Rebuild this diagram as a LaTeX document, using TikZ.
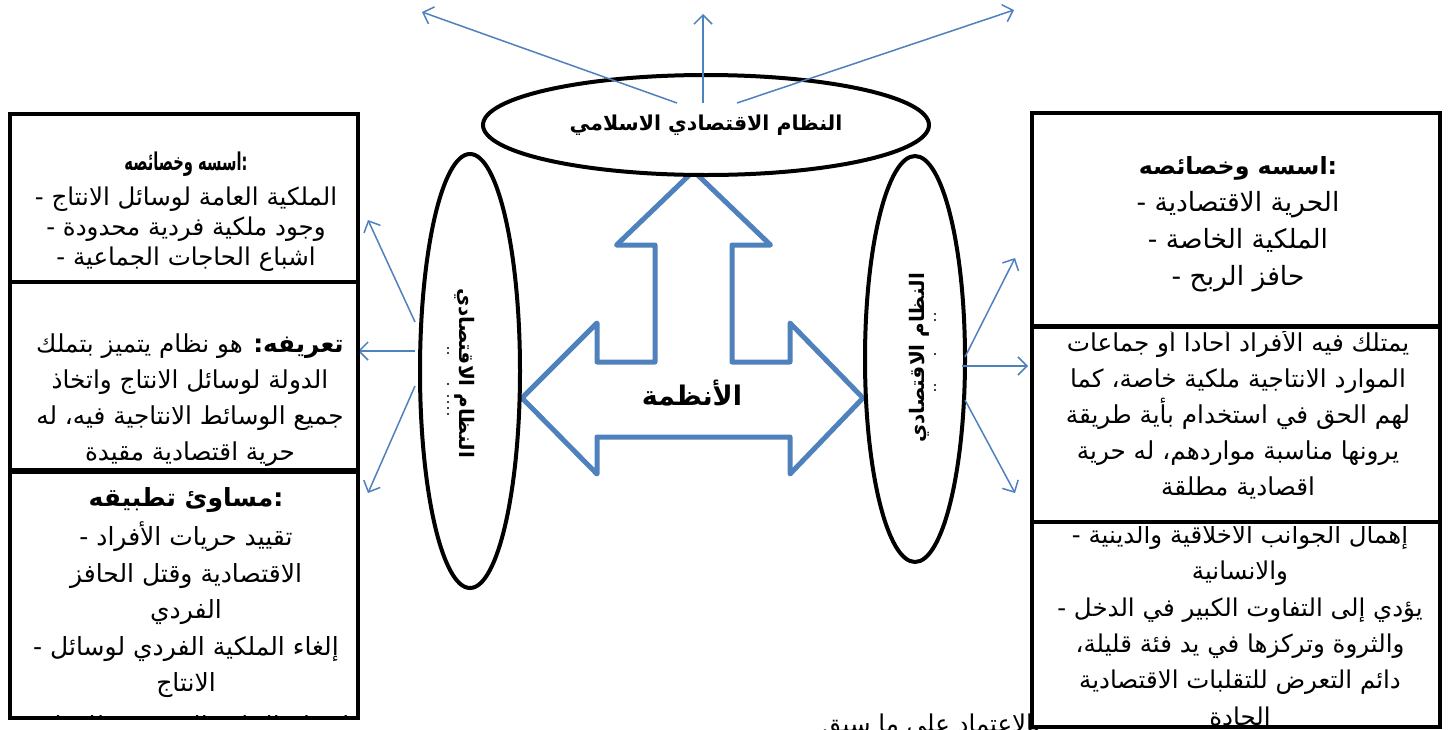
\documentclass[tikz,border=0pt]{standalone}
\usepackage{fontspec}
\usetikzlibrary{arrows.meta,shapes.geometric}
\newfontfamily\arabicfont[Script=Arabic]{DejaVu Sans}
\TeXXeTstate=1
\definecolor{officeblue}{HTML}{4F81BD}
\newcommand\artext[1]{\beginR #1\endR}
\newcommand\dash{-\ }

\tikzset{
  boxframe/.style={draw=black, line width=4pt, fill=white},
  boxtext/.style={anchor=north, align=center, inner sep=0pt, text=black},
  bluearrow/.style={draw=officeblue, line width=1.5pt, -{Straight Barb[length=9pt,width=18pt,line width=1.5pt]}},
  oval/.style={ellipse, draw=black, line width=4pt, fill=white, inner sep=0pt},
}

\begin{document}
\begin{tikzpicture}[x=1pt,y=-1pt]
\clip (0,0) rectangle (1451,729);
\fill[white] (0,0) rectangle (1451,729);

% ---- central three-way arrow
\draw[officeblue, line width=5pt, line join=round]
  (693.5,171) -- (770.5,245) -- (732,245) -- (732,362) -- (790,362) -- (790,323)
  -- (863,398) -- (790,474) -- (790,437) -- (597,437) -- (597,474) -- (522,398)
  -- (597,323) -- (597,362) -- (655,362) -- (655,245) -- (616.5,245) -- cycle;
\node[font=\arabicfont\bfseries\fontsize{27}{30}\selectfont] (systems) at (692,393) {\artext{الأنظمة}};

% ---- ovals
\node[oval, minimum width=446pt, minimum height=100pt,
      font=\arabicfont\bfseries\fontsize{20.5}{24}\selectfont] (islamic) at (706,125)
      {\artext{النظام الاقتصادي الاسلامي}};
\node[oval, minimum width=100pt, minimum height=434pt] (lefto) at (470,371) {};
\node[rotate=-90, font=\arabicfont\bfseries\fontsize{20}{22}\selectfont] (lefttxt) at (465,373)
      {\artext{النظام الاقتصادي}};
\node[oval, minimum width=100pt, minimum height=406pt] (righto) at (915,359) {};
\node[rotate=90, font=\arabicfont\bfseries\fontsize{20}{22}\selectfont] (righttxt) at (919,358)
      {\artext{النظام الاقتصادي}};
\foreach \yy in {348,353,384,396,402,408,414} \fill (448,\yy) circle (1.1pt);
\foreach \yy in {314,320,354,385,390} \fill (935,\yy) circle (1.1pt);

% ---- arrows out of the top oval
\coordinate (t1) at (677,103);
\coordinate (t2) at (703,103);
\coordinate (t3) at (737,103);
\coordinate (t1e) at (422,12);
\coordinate (t2e) at (703,14);
\coordinate (t3e) at (1014,10);
\draw[bluearrow] (t1) -- (t1e);
\draw[bluearrow] (t2) -- (t2e);
\draw[bluearrow] (t3) -- (t3e);

% ---- arrows out of the left oval
\coordinate (l1) at (415,322);
\coordinate (l2) at (415,351);
\coordinate (l3) at (415,386);
\coordinate (l1e) at (368,220);
\coordinate (l2e) at (358,351);
\coordinate (l3e) at (368,493);
\draw[bluearrow] (l1) -- (l1e);
\draw[bluearrow] (l2) -- (l2e);
\draw[bluearrow] (l3) -- (l3e);

% ---- arrows out of the right oval
\coordinate (r1) at (965,357);
\coordinate (r2) at (962,366);
\coordinate (r3) at (965,400);
\coordinate (r1e) at (1015,258);
\coordinate (r2e) at (1028,366);
\coordinate (r3e) at (1015,493);
\draw[bluearrow] (r1) -- (r1e);
\draw[bluearrow] (r2) -- (r2e);
\draw[bluearrow] (r3) -- (r3e);

% ---- closing sentence, partly under the last right box
\node[anchor=west, inner sep=0pt, font=\arabicfont\fontsize{24.5}{28}\selectfont] (conclusion) at (822,726)
      {\artext{بالاعتماد على ما سبق}};

% ---- left column: socialist system
\path[boxframe] (10,114) rectangle (358,283);
\begin{scope}
\clip (12,116) rectangle (356,281);
\node[boxtext, font=\arabicfont\fontsize{24.5}{30}\selectfont] (lbasis) at (186,152)
  {\scalebox{0.6}[1]{\bfseries\artext{اسسه وخصائصه}:}\\[5pt]
   \dash\artext{الملكية العامة لوسائل الانتاج}\\
   \dash\artext{وجود ملكية فردية محدودة}\\
   \dash\artext{اشباع الحاجات الجماعية}};
\end{scope}
\draw[line width=4pt] (10,114) rectangle (358,283);

\path[boxframe] (10,282) rectangle (358,470);
\begin{scope}
\clip (12,284) rectangle (356,468);
\node[boxtext, font=\arabicfont\fontsize{24.7}{35.7}\selectfont] (ldef) at (190,334)
  {\artext{{\bfseries تعريفه:} هو نظام يتميز بتملك}\\
   \artext{الدولة لوسائل الانتاج واتخاذ}\\
   \artext{جميع الوسائط الانتاجية فيه، له}\\
   \artext{حرية اقتصادية مقيدة}};
\end{scope}
\draw[line width=4pt] (10,282) rectangle (358,470);

\path[boxframe] (10,472) rectangle (358,718);
\begin{scope}
\clip (12,474) rectangle (356,716);
\node[boxtext, font=\arabicfont\fontsize{25}{36.5}\selectfont] (lflaws) at (186,487)
  {{\bfseries\artext{مساوئ تطبيقه}:}\\[3pt]
   \dash\artext{تقييد حريات الأفراد}\\
   \artext{الاقتصادية وقتل الحافز}\\
   \artext{الفردي}\\
   \dash\artext{إلغاء الملكية الفردي لوسائل}\\
   \artext{الانتاج}\\[6pt]
   \dash\artext{انعدام الحافز الشخصي للإبداع}};
\end{scope}
\draw[line width=4pt] (10,472) rectangle (358,718);

% ---- right column: capitalist system
\path[boxframe] (1032,113) rectangle (1440,326);
\begin{scope}
\clip (1034,115) rectangle (1438,324);
\node[boxtext, font=\arabicfont\fontsize{26.5}{37}\selectfont] (rbasis) at (1238,156)
  {{\bfseries\fontsize{23.7}{30}\selectfont\artext{اسسه وخصائصه}:}\\
   \dash\artext{الحرية الاقتصادية}\\
   \dash\artext{الملكية الخاصة}\\
   \dash\artext{حافز الربح}};
\end{scope}
\draw[line width=4pt] (1032,113) rectangle (1440,326);

\path[boxframe] (1032,327) rectangle (1440,522);
\begin{scope}
\clip (1034,331) rectangle (1438,520);
\node[boxtext, font=\arabicfont\fontsize{24.7}{36}\selectfont] (rdef) at (1238,327)
  {\artext{يمتلك فيه الأفراد أحادا أو جماعات}\\
   \artext{الموارد الانتاجية ملكية خاصة، كما}\\
   \artext{لهم الحق في استخدام بأية طريقة}\\
   \artext{يرونها مناسبة مواردهم، له حرية}\\
   \artext{اقصادية مطلقة}};
\end{scope}
\draw[line width=4pt] (1032,327) rectangle (1440,522);

\path[boxframe] (1032,522) rectangle (1440,727);
\begin{scope}
\clip (1034,526) rectangle (1438,725);
\node[boxtext, font=\arabicfont\fontsize{24.5}{36.3}\selectfont] (rflaws) at (1240,520)
  {\dash\artext{إهمال الجوانب الأخلاقية والدينية}\\
   \artext{والانسانية}\\
   \dash\artext{يؤدي إلى التفاوت الكبير في الدخل}\\
   \artext{والثروة وتركزها في يد فئة قليلة،}\\
   \artext{دائم التعرض للتقلبات الاقتصادية}\\
   \artext{الحادة}};
\end{scope}
\draw[line width=4pt] (1032,522) rectangle (1440,727);
\end{tikzpicture}
\end{document}
